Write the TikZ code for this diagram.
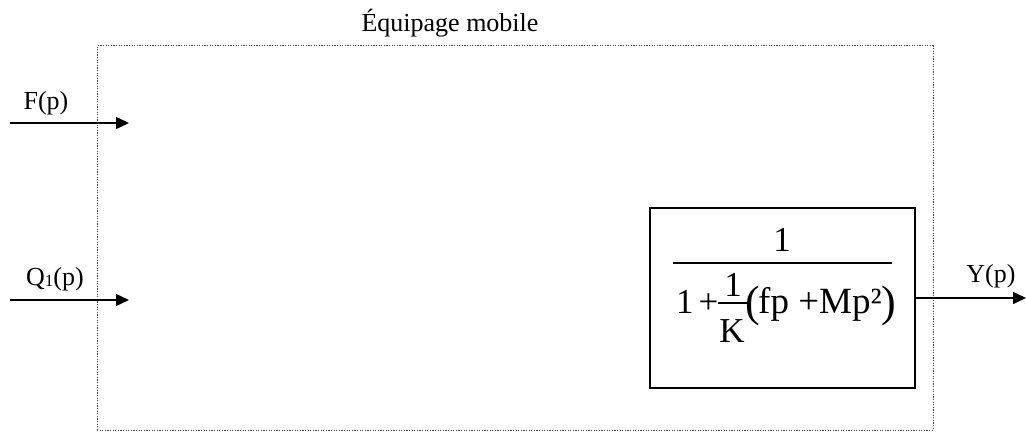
\documentclass[tikz,border=0pt]{standalone}
\usepackage{fontspec}
\setmainfont{Liberation Serif}
\usetikzlibrary{arrows.meta}
\tikzset{
  lbl/.style={font=\fontsize{26}{26}\selectfont, inner sep=0pt, anchor=base},
  fml/.style={font=\fontsize{35}{35}\selectfont, inner sep=0pt, anchor=base},
  fmlb/.style={font=\fontsize{37}{37}\selectfont, inner sep=0pt, anchor=base west},
  par/.style={font=\fontsize{44}{44}\selectfont, inner sep=0pt, anchor=base west},
  sig/.style={line width=1.6pt, -{Triangle[length=13pt,width=12pt]}},
  frame/.style={draw=black!75, line width=1pt, dash pattern=on 1.3pt off 1.3pt},
  blk/.style={draw, line width=1.5pt, minimum width=265pt, minimum height=180pt, inner sep=0pt},
  bar/.style={line width=1.3pt}
}
\begin{document}
\begin{tikzpicture}[x=1pt,y=1pt]
\useasboundingbox (0,0) rectangle (1026,432);
% dotted frame
\draw[frame] (97,2) rectangle (933,386);
\node[lbl] (title) at (450,400) {Équipage mobile};
% inputs
\coordinate (fin) at (10,309);
\coordinate (fout) at (129,309);
\draw[sig] (fin) -- (fout);
\node[lbl] (flbl) at (46,322) {F(p)};
\coordinate (qin) at (10,132);
\coordinate (qout) at (129,132);
\draw[sig] (qin) -- (qout);
\node[lbl] (qlbl) at (55,147) {Q{\fontsize{17}{17}\selectfont\raisebox{-1pt}{1}}(p)};
% block
\node[blk] (box) at (782.5,134) {};
\coordinate (yout) at (1026,134);
\draw[sig] (box.east) -- (yout);
\node[lbl] (ylbl) at (991,150) {Y(p)};
% formula
\node[fml] (num) at (782,181) {1};
\draw[bar] (673,169) -- (892,169);
\node[fml, anchor=base west] (d1) at (676,119) {1\hspace{5pt}+};
\node[fml] (k1) at (733,135.5) {1};
\draw[bar] (718,129) -- (747,129);
\node[fml] (kk) at (732,90) {K};
\node[par] (lp) at (745,116) {(};
\node[fmlb] (body) at (758,119) {fp +Mp²};
\node[par] (rp) at (881,116) {)};
\end{tikzpicture}
\end{document}
